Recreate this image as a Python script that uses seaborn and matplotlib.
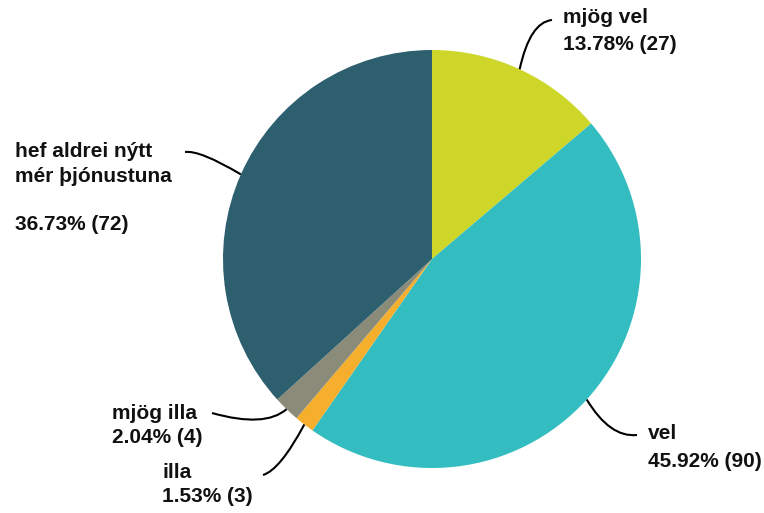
import numpy as np
import matplotlib
matplotlib.use("Agg")
import matplotlib.pyplot as plt
import seaborn as sns
from matplotlib.path import Path
from matplotlib.patches import PathPatch

# data
labels = ["mjög vel", "vel", "illa", "mjög illa", "hef aldrei nýtt\nmér þjónustuna"]
counts = [27, 90, 3, 4, 72]
colors = ["#CDD629", "#33BDC1", "#F6AE2D", "#8A8B78", "#2E5F6E"]

# label layout (pixel coords, origin top-left)
text_x = [563, 648, 162, 112, 15]
name_base = [23, 439, 478, 419, 157]     # baseline of first name line
pct_base = [50, 467, 502, 443, 230]      # baseline of percentage line
line_end = [(552, 20), (637, 435), (263, 475), (212, 413), (185, 152)]
line_ctrl = [(530, 22), (610, 438), (280, 470), (265, 428), (200, 150)]

W, H = 764, 513
sns.set_theme(style="white")
plt.rcParams["font.family"] = ["Liberation Sans", "DejaVu Sans"]

fig = plt.figure(figsize=(W / 100, H / 100), dpi=100)
ax = fig.add_axes([0, 0, 1, 1])

cx, cy, r = 432, 259, 209
wedges, _ = ax.pie(counts, colors=colors, startangle=90, counterclock=False,
                   center=(cx, H - cy), radius=r, frame=True,
                   wedgeprops=dict(linewidth=0))
ax.set_xlim(0, W)
ax.set_ylim(0, H)
ax.set_aspect("equal")
ax.axis("off")

total = sum(counts)
style = dict(ha="left", va="baseline", fontsize=15, fontweight="bold", color="#111111")
for i, w in enumerate(wedges):
    mid = np.deg2rad((w.theta1 + w.theta2) / 2)
    sx = cx + r * np.cos(mid)
    sy = (H - cy) + r * np.sin(mid)
    le, lc = line_end[i], line_ctrl[i]
    path = Path([(sx, sy), (lc[0], H - lc[1]), (le[0], H - le[1])],
                [Path.MOVETO, Path.CURVE3, Path.CURVE3])
    ax.add_patch(PathPatch(path, fill=False, lw=1.5, color="black"))
    for k, line in enumerate(labels[i].split("\n")):
        ax.text(text_x[i], H - (name_base[i] + 25 * k), line, **style)
    n = counts[i]
    ax.text(text_x[i], H - pct_base[i], f"{100 * n / total:.2f}% ({n})", **style)

fig.savefig("out.png", dpi=100)
